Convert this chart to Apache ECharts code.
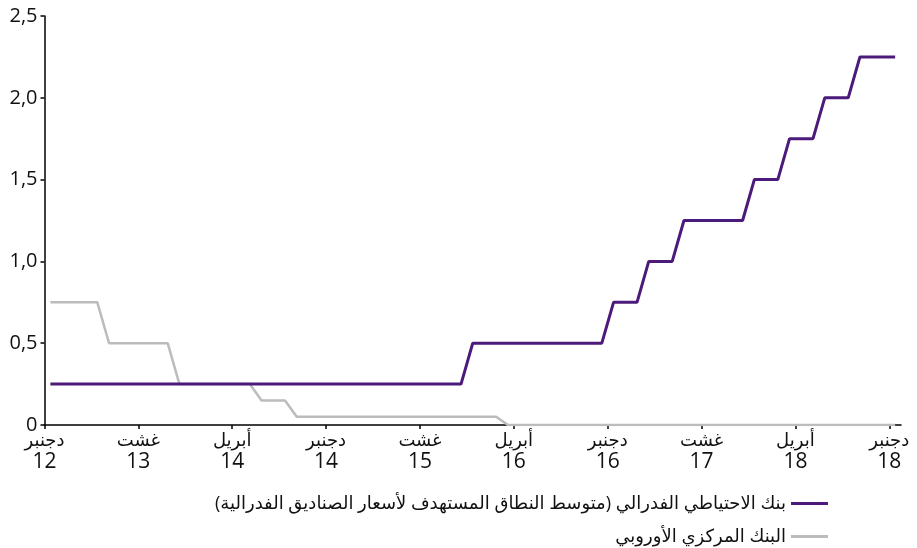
<!DOCTYPE html>
<html>
<head>
<meta charset="utf-8">
<script src="https://cdn.jsdelivr.net/npm/echarts@6/dist/echarts.min.js"></script>
<style>
html,body{margin:0;padding:0;background:#fff;}
#chart{width:917px;height:548px;}
</style>
</head>
<body>
<div id="chart"></div>
<script>
// Monthly values, Dec 2012 .. Dec 2018 (73 months)
const fedName = 'بنك الاحتياطي الفدرالي (متوسط النطاق المستهدف لأسعار الصناديق الفدرالية)';
const ecbName = 'البنك المركزي الأوروبي';

const fedRate = [
  0.25,0.25,0.25,0.25,0.25,0.25,0.25,0.25,0.25,0.25,0.25,0.25,
  0.25,0.25,0.25,0.25,0.25,0.25,0.25,0.25,0.25,0.25,0.25,0.25,
  0.25,0.25,0.25,0.25,0.25,0.25,0.25,0.25,0.25,0.25,0.25,0.25,
  0.5,0.5,0.5,0.5,0.5,0.5,0.5,0.5,0.5,0.5,0.5,0.5,
  0.75,0.75,0.75,1.0,1.0,1.0,1.25,1.25,1.25,1.25,1.25,1.25,
  1.5,1.5,1.5,1.75,1.75,1.75,2.0,2.0,2.0,2.25,2.25,2.25,
  2.25
];
const ecbRate = [
  0.75,0.75,0.75,0.75,0.75,0.5,0.5,0.5,0.5,0.5,0.5,0.25,
  0.25,0.25,0.25,0.25,0.25,0.25,0.15,0.15,0.15,0.05,0.05,0.05,
  0.05,0.05,0.05,0.05,0.05,0.05,0.05,0.05,0.05,0.05,0.05,0.05,
  0.05,0.05,0.05,0,0,0,0,0,0,0,0,0,
  0,0,0,0,0,0,0,0,0,0,0,0,
  0,0,0,0,0,0,0,0,0,0,0,0,
  0
];
const tickMonths = ['دجنبر','غشت','أبريل','دجنبر','غشت','أبريل','دجنبر','غشت','أبريل','دجنبر'];
const tickYears  = ['12','13','14','14','15','16','16','17','18','18'];
const tickStep = 8; // months between tick labels

const xTicks = tickMonths.map((_, k) => k * tickStep);
const toPoints = arr => arr.map((v, i) => [i + 0.5, v]);

const FONT = "'Open Sans', 'DejaVu Sans', sans-serif";

const chart = echarts.init(document.getElementById('chart'), null, {renderer: 'canvas'});
chart.setOption({
  animation: false,
  backgroundColor: '#ffffff',
  grid: {left: 44.5, right: 16, top: 16, bottom: 123, containLabel: false},
  xAxis: {
    type: 'value',
    min: 0,
    max: fedRate.length,
    splitLine: {show: false},
    axisLine: {show: true, onZero: false, lineStyle: {color: '#000', width: 1.5}},
    axisTick: {show: true, customValues: xTicks, length: 4, inside: false, lineStyle: {color: '#000', width: 1.5}},
    axisLabel: {
      customValues: xTicks,
      color: '#111',
      fontFamily: FONT,
      margin: 6,
      formatter: v => {
        const k = Math.round(v / tickStep);
        return tickMonths[k] ? '{m|' + tickMonths[k] + '}\n{y|' + tickYears[k] + '}' : '';
      },
      rich: {
        m: {fontSize: 18, lineHeight: 20, fontFamily: FONT, color: '#111'},
        y: {fontSize: 21, lineHeight: 22, fontFamily: FONT, color: '#111'}
      }
    }
  },
  yAxis: {
    type: 'value',
    min: 0,
    max: 2.5,
    interval: 0.5,
    splitLine: {show: false},
    axisLine: {show: true, lineStyle: {color: '#000', width: 1.5}},
    axisTick: {show: true, length: 4, lineStyle: {color: '#000', width: 1.5}},
    axisLabel: {
      color: '#111',
      fontSize: 20,
      fontFamily: FONT,
      margin: 7,
      formatter: v => v === 0 ? '0' : v.toFixed(1).replace('.', ',')
    }
  },
  legend: {
    orient: 'vertical',
    right: 89,
    top: 493,
    padding: 0,
    align: 'right',
    icon: 'rect',
    itemWidth: 37,
    itemHeight: 3,
    itemGap: 12,
    textStyle: {fontSize: 18, color: '#111', fontFamily: FONT, lineHeight: 21},
    data: [fedName, ecbName]
  },
  series: [
    {
      name: fedName,
      type: 'line',
      data: toPoints(fedRate),
      symbol: 'none',
      lineStyle: {color: '#4b1a7b', width: 3},
      itemStyle: {color: '#4b1a7b'},
      z: 3
    },
    {
      name: ecbName,
      type: 'line',
      data: toPoints(ecbRate),
      symbol: 'none',
      lineStyle: {color: '#bcbcbc', width: 2.5},
      itemStyle: {color: '#bcbcbc'},
      z: 2
    }
  ]
});
</script>
</body>
</html>
